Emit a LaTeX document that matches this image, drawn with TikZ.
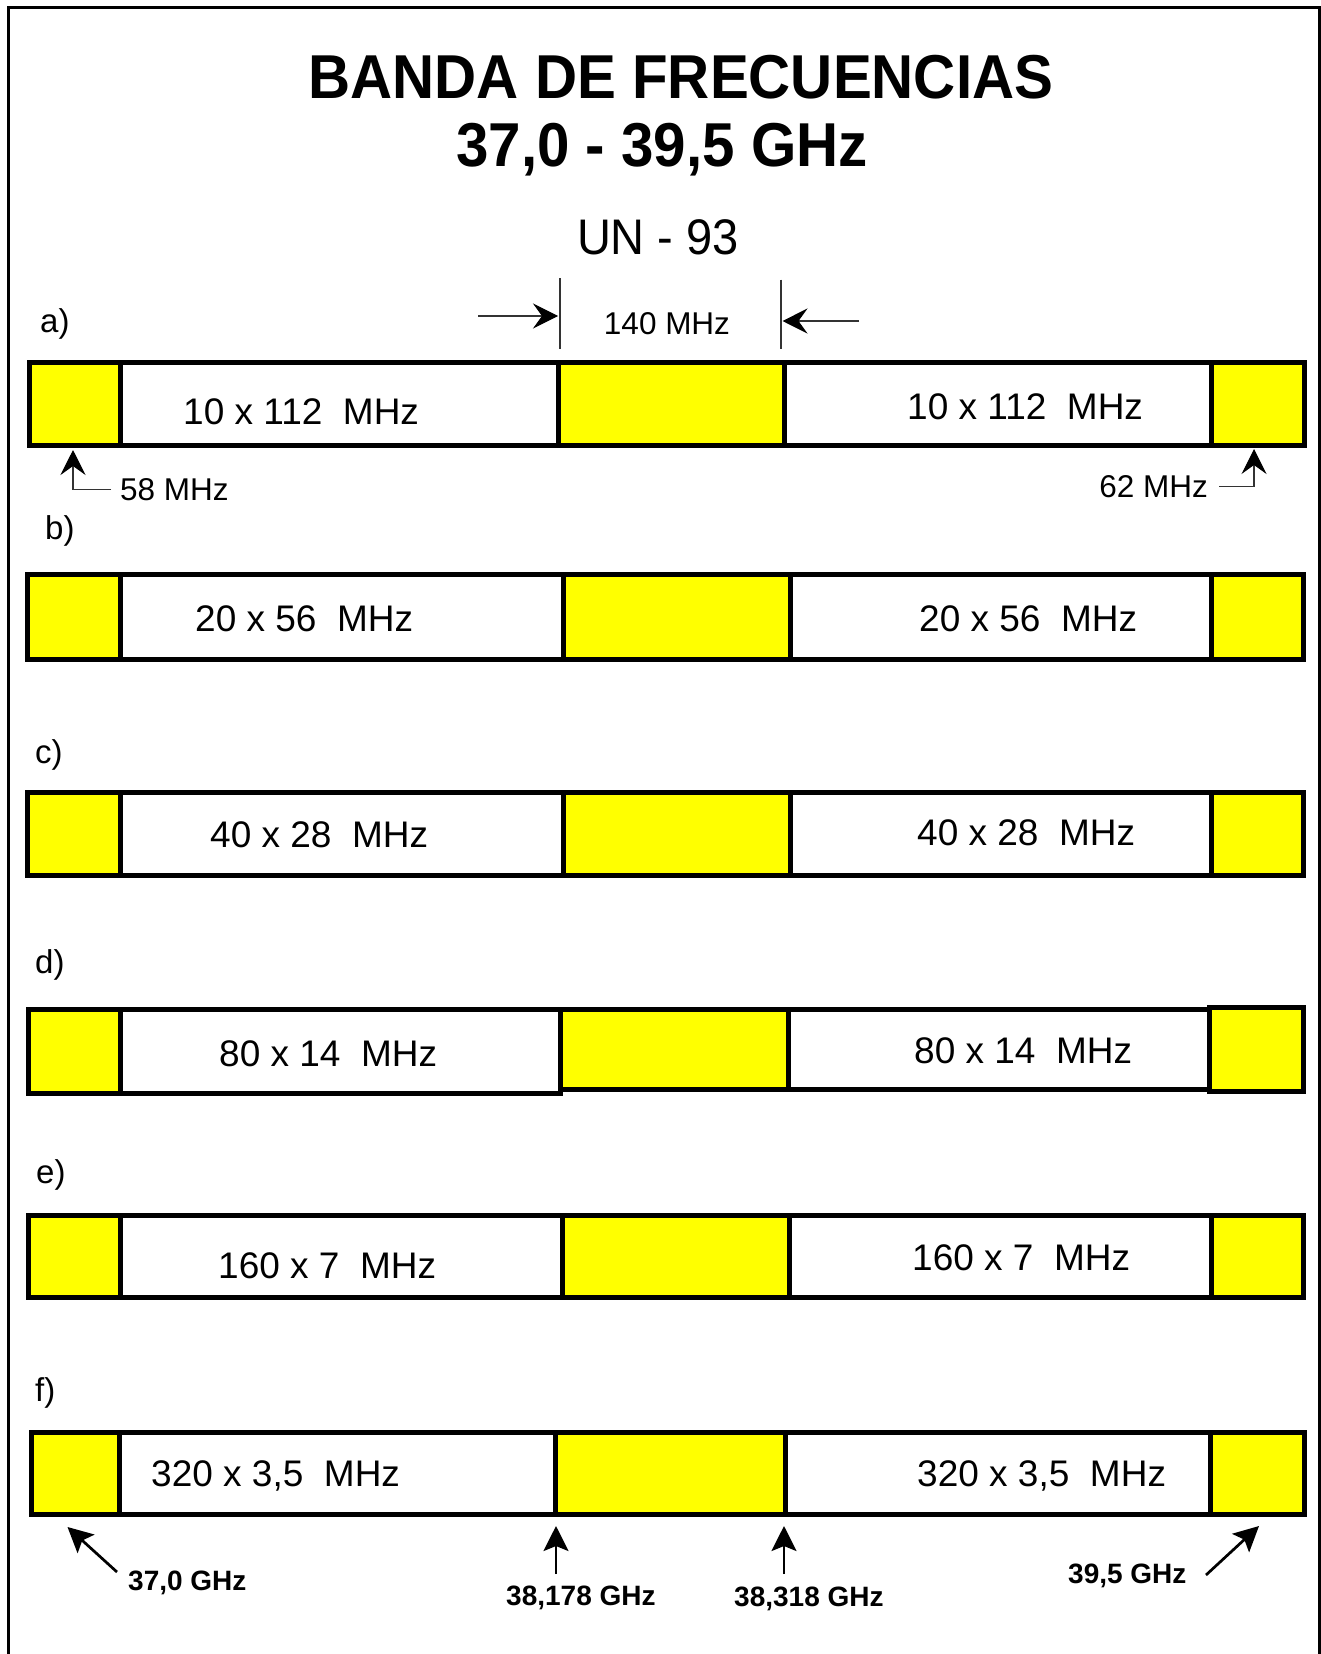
\documentclass[tikz,border=0pt]{standalone}
\usepackage{fontspec}
\setmainfont{Liberation Sans}
\newfontfamily\titlefont[FakeStretch=0.94]{Liberation Sans}
\usetikzlibrary{arrows.meta}
\definecolor{bandyellow}{RGB}{255,255,0}
\newcommand\bandseg[6]{\node[#2, anchor=north west, minimum width={#4pt-#3pt}, minimum height={#6pt-#5pt}] (#1) at (#3,#5) {};}
\newcommand\bandrow[9]{%
  \bandseg{#1a}{yseg}{#4}{#5}{#2}{#3}
  \bandseg{#1b}{wseg}{#5}{#6}{#2}{#3}
  \bandseg{#1c}{yseg}{#6}{#7}{#2}{#3}
  \bandseg{#1d}{wseg}{#7}{#8}{#2}{#3}
  \bandseg{#1e}{yseg}{#8}{#9}{#2}{#3}}
\tikzset{
  yseg/.style={draw, line width=5pt, fill=bandyellow, inner sep=0, outer sep=0},
  wseg/.style={draw, line width=5pt, fill=white, inner sep=0, outer sep=0},
  rowtxt/.style={font=\fontsize{37}{40}\selectfont, inner sep=0, anchor=base west},
  rowlbl/.style={font=\fontsize{33}{36}\selectfont, inner sep=0, anchor=base west},
  mhz/.style={font=\fontsize{31.5}{36}\selectfont, inner sep=0},
  ghz/.style={font=\bfseries\fontsize{28}{32}\selectfont, inner sep=0, anchor=base west},
  thinarr/.style={line width=1.1pt, draw=black!80, -{Stealth[length=25pt,width=25pt,inset=9pt,color=black]}},
  thinline/.style={line width=1.1pt, draw=black!80},
  boldarr/.style={line width=2.7pt, -{Stealth[length=25pt,width=25pt,inset=5pt]}},
}
\begin{document}
\begin{tikzpicture}[x=1pt,y=-1pt]
\useasboundingbox (0,0) rectangle (1321,1654);
\fill[white] (0,0) rectangle (1321,1654);
% frame
\draw[line width=3pt] (8.5,1654) -- (8.5,7.5) -- (1319,7.5) -- (1319,1654);

% titles
\node[font=\titlefont\bfseries\fontsize{62}{70}\selectfont, inner sep=0, anchor=base] (t1) at (681,98) {BANDA DE FRECUENCIAS};
\node[font=\titlefont\bfseries\fontsize{62}{70}\selectfont, inner sep=0, anchor=base] (t2) at (662,166) {37,0 - 39,5 GHz};
\node[font=\titlefont\fontsize{50}{56}\selectfont, inner sep=0, anchor=base] (t3) at (658,254) {UN - 93};

% row a
\node[rowlbl] (la) at (40,332) {a)};
\bandrow{ra}{362}{445}{29.5}{120}{558}{784}{1211}{1304.5}
\node[rowtxt] (ta1) at (183,424) {10 x 112~~MHz};
\node[rowtxt] (ta2) at (907,419) {10 x 112~~MHz};
% 140 MHz
\coordinate (m1t) at (560,278); \coordinate (m1b) at (560,349);
\coordinate (m2t) at (781,279.5); \coordinate (m2b) at (781,349);
\draw[thinline] (m1t) -- (m1b);
\draw[thinline] (m2t) -- (m2b);
\coordinate (a1s) at (478,316); \coordinate (a1e) at (558,316);
\coordinate (a2s) at (859,321); \coordinate (a2e) at (782.5,321);
\draw[thinarr] (a1s) -- (a1e);
\draw[thinarr] (a2s) -- (a2e);
\node[mhz, anchor=base] (l140) at (667,334) {140 MHz};
% 58 / 62 MHz
\node[mhz, anchor=base west] (l58) at (120,500) {58 MHz};
\node[mhz, anchor=base east] (l62) at (1208,497) {62 MHz};
\coordinate (t58) at (73,450);
\coordinate (t62) at (1254,449);
\draw[thinarr] ([xshift=-9pt]l58.west) -| (t58);
\draw[thinarr] ([xshift=11pt]l62.east) -| (t62);

% row b
\node[rowlbl] (lb) at (45,539) {b)};
\bandrow{rb}{574.5}{659.5}{27.5}{120.5}{563}{790}{1211}{1303.5}
\node[rowtxt] (tb1) at (195,631) {20 x 56~~MHz};
\node[rowtxt] (tb2) at (919,631) {20 x 56~~MHz};

% row c
\node[rowlbl] (lc) at (35,763) {c)};
\bandrow{rc}{792.5}{875.5}{27.5}{120.5}{563}{790}{1211}{1303.5}
\node[rowtxt] (tc1) at (210,847) {40 x 28~~MHz};
\node[rowtxt] (tc2) at (917,845) {40 x 28~~MHz};

% row d
\node[rowlbl] (ld) at (35,973) {d)};
\bandseg{rda}{yseg}{28.5}{120}{1009.5}{1093.5}
\bandseg{rdb}{wseg}{120}{560}{1009.5}{1093.5}
\bandseg{rdc}{yseg}{560}{788}{1009.5}{1089.5}
\bandseg{rdd}{wseg}{788}{1209}{1009.5}{1089.5}
\bandseg{rde}{yseg}{1209}{1303.5}{1007.5}{1091.5}
\node[rowtxt] (td1) at (219,1066) {80 x 14~~MHz};
\node[rowtxt] (td2) at (914,1063) {80 x 14~~MHz};

% row e
\node[rowlbl] (le) at (36,1183) {e)};
\bandrow{re}{1215.5}{1297.5}{28.5}{120}{562}{789}{1211}{1303.5}
\node[rowtxt] (te1) at (218,1278) {160 x 7~~MHz};
\node[rowtxt] (te2) at (912,1270) {160 x 7~~MHz};

% row f
\node[rowlbl] (lf) at (35,1401) {f)};
\bandrow{rf}{1432.5}{1514.5}{31}{119}{555}{785}{1210}{1304}
\node[rowtxt] (tf1) at (151,1486) {320 x 3,5~~MHz};
\node[rowtxt] (tf2) at (917,1486) {320 x 3,5~~MHz};

% frequency markers
\node[ghz] (g1) at (128,1590) {37,0 GHz};
\node[ghz] (g2) at (506,1605) {38,178 GHz};
\node[ghz] (g3) at (734,1606) {38,318 GHz};
\node[ghz] (g4) at (1068,1583) {39,5 GHz};
\coordinate (g1s) at (117,1572); \coordinate (g1t) at (67.5,1527);
\coordinate (g2s) at (556,1574); \coordinate (g2t) at (556,1526);
\coordinate (g3s) at (784,1574); \coordinate (g3t) at (784,1526);
\coordinate (g4s) at (1206,1575); \coordinate (g4t) at (1259,1526);
\draw[boldarr] (g1s) -- (g1t);
\draw[boldarr] (g2s) -- (g2t);
\draw[boldarr] (g3s) -- (g3t);
\draw[boldarr] (g4s) -- (g4t);
\end{tikzpicture}
\end{document}
